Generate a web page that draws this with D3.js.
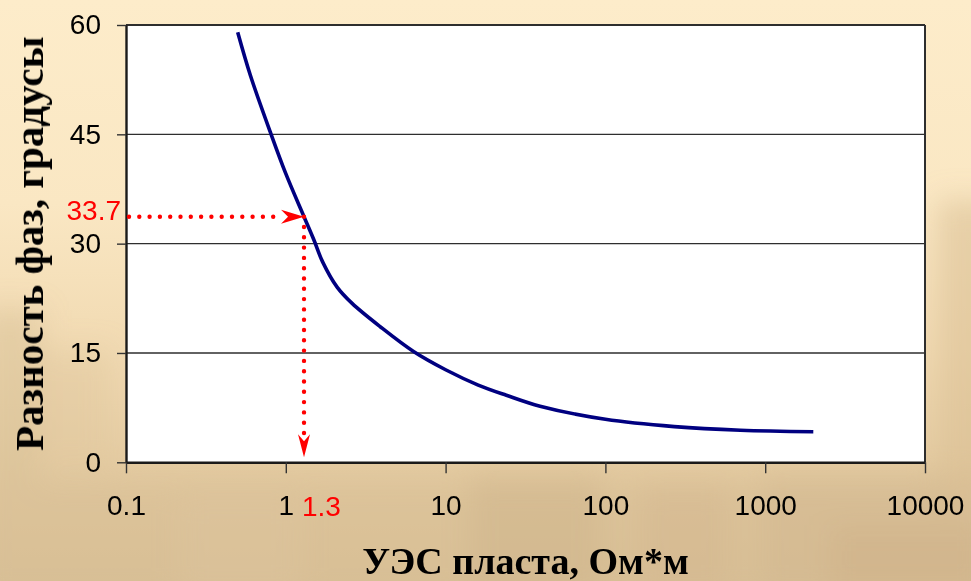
<!DOCTYPE html>
<html>
<head>
<meta charset="utf-8">
<script src="https://cdn.jsdelivr.net/npm/d3@7"></script>
<style>
  html, body { margin: 0; padding: 0; background: #f7e4bf; }
  svg { display: block; }
</style>
</head>
<body>
<svg id="chart" width="971" height="581"></svg>
<script>
// Phase difference vs. formation resistivity
const resistivity = [0.5, 0.6, 0.8, 1, 1.3, 1.5, 1.7, 2.1, 2.6, 3.9, 6.3, 10, 16, 24, 39, 100, 270, 700, 2000];
const phaseDiff   = [59, 53.1, 45.3, 39.6, 33.7, 30.5, 27.5, 24.0, 21.8, 18.6, 15.2, 12.7, 10.6, 9.2, 7.7, 5.9, 4.9, 4.4, 4.2];

const xTicks = [0.1, 1, 10, 100, 1000, 10000];
const xTickLabels = ["0.1", "1", "10", "100", "1000", "10000"];
const yTicks = [0, 15, 30, 45, 60];
const yTickLabels = ["0", "15", "30", "45", "60"];

// Worked example
const markRes = 1.3;
const markPhase = 33.7;

const xTitle = "УЭС пласта, Ом*м";
const yTitle = "Разность фаз, градусы";

const W = 971, H = 581;
const plot = { left: 126, right: 925, top: 25, bottom: 462.3 };

const svg = d3.select("#chart");
const defs = svg.append("defs");

// ---- sepia backdrop ----
const bg = defs.append("linearGradient").attr("id", "bgGrad")
  .attr("x1", 0).attr("y1", 0).attr("x2", 0).attr("y2", 1);
[[0, "#fdecca"], [0.35, "#fae7c3"], [0.6, "#f1dab2"], [0.8, "#e4cba1"], [1, "#d9c197"]]
  .forEach(([o, c]) => bg.append("stop").attr("offset", o).attr("stop-color", c));
defs.append("filter").attr("id", "haze").attr("x", "-30%").attr("y", "-30%")
  .attr("width", "160%").attr("height", "160%")
  .append("feGaussianBlur").attr("stdDeviation", 14);

svg.append("rect").attr("width", W).attr("height", H).attr("fill", "url(#bgGrad)");

// faint hazy silhouettes of the old photograph
const haze = svg.append("g").attr("filter", "url(#haze)");
const blobs = [
  [-20, 310, 60, 170, "#d8bf96", 0.5], [40, 350, 70, 120, "#e0c79f", 0.45],
  [-20, 480, 1010, 120, "#d7bd93", 0.5], [470, 475, 130, 120, "#cdb28a", 0.4],
  [640, 485, 90, 110, "#d0b58c", 0.35], [760, 475, 230, 120, "#cfb48b", 0.35],
  [938, 200, 60, 300, "#d9be94", 0.55], [180, 495, 120, 100, "#dcc59d", 0.35],
  [830, 525, 160, 70, "#c9ad84", 0.3]
];
blobs.forEach(([x, y, w, h, c, o]) =>
  haze.append("rect").attr("x", x).attr("y", y).attr("width", w).attr("height", h)
    .attr("fill", c).attr("opacity", o));

// ---- scales ----
const x = d3.scaleLog().domain([0.1, 10000]).range([plot.left, plot.right]);
const y = d3.scaleLinear().domain([0, 60]).range([plot.bottom, plot.top]);

// plot area
svg.append("rect")
  .attr("x", plot.left).attr("y", plot.top)
  .attr("width", plot.right - plot.left).attr("height", plot.bottom - plot.top)
  .attr("fill", "#ffffff");

// horizontal gridlines
svg.append("g").selectAll("line").data(yTicks.filter(v => v > 0)).join("line")
  .attr("x1", plot.left).attr("x2", plot.right)
  .attr("y1", d => y(d)).attr("y2", d => y(d))
  .attr("stroke", "#2e2e2e").attr("stroke-width", d => d === 60 ? 2 : 1.4);

// right border
svg.append("line")
  .attr("x1", plot.right).attr("x2", plot.right)
  .attr("y1", plot.top).attr("y2", plot.bottom)
  .attr("stroke", "#2e2e2e").attr("stroke-width", 2);

// ---- axes ----
const tickFont = "'Liberation Sans', Arial, sans-serif";

const xAxis = d3.axisBottom(x)
  .tickValues(xTicks)
  .tickFormat((d, i) => xTickLabels[i])
  .tickSize(11).tickSizeOuter(0).tickPadding(22);
const gx = svg.append("g").attr("transform", `translate(0,${plot.bottom})`).call(xAxis);
gx.select(".domain").attr("stroke", "#1a1a1a").attr("stroke-width", 2.4);
gx.selectAll(".tick line").attr("stroke", "#333").attr("stroke-width", 1.4);
gx.selectAll(".tick text").attr("font-family", tickFont).attr("font-size", 28).attr("fill", "#000");

const yAxis = d3.axisLeft(y)
  .tickValues(yTicks)
  .tickFormat((d, i) => yTickLabels[i])
  .tickSize(9).tickSizeOuter(0).tickPadding(16);
const gy = svg.append("g").attr("transform", `translate(${plot.left},0)`).call(yAxis);
gy.select(".domain").attr("stroke", "#1a1a1a").attr("stroke-width", 2.4);
gy.selectAll(".tick line").attr("stroke", "#333").attr("stroke-width", 1.4);
gy.selectAll(".tick text").attr("font-family", tickFont).attr("font-size", 28).attr("fill", "#000");

// ---- curve ----
const line = d3.line()
  .x((d, i) => x(resistivity[i]))
  .y(d => y(d))
  .curve(d3.curveCatmullRom.alpha(0.5));

svg.append("path")
  .datum(phaseDiff)
  .attr("d", line)
  .attr("fill", "none")
  .attr("stroke", "#000080")
  .attr("stroke-width", 3.6);

// ---- worked example: dotted guides with arrowheads ----
const red = "#ff0000";
const px = x(markRes), py = y(markPhase);
const arrowLen = 23, arrowHalf = 7, notch = 7;

// horizontal guide: from the phase axis to the curve
svg.append("line")
  .attr("x1", plot.left + 3).attr("x2", px - arrowLen + 2)
  .attr("y1", py).attr("y2", py)
  .attr("stroke", red).attr("stroke-width", 4.4)
  .attr("stroke-linecap", "round").attr("stroke-dasharray", "0 10.3");

svg.append("path")
  .attr("d", `M${px},${py} L${px - arrowLen},${py - arrowHalf} L${px - arrowLen + notch},${py} L${px - arrowLen},${py + arrowHalf} Z`)
  .attr("fill", red);

// vertical guide: from the curve down to the resistivity axis
const tipY = y(0) - 5;
svg.append("line")
  .attr("x1", px).attr("x2", px)
  .attr("y1", py).attr("y2", tipY - arrowLen + 4)
  .attr("stroke", red).attr("stroke-width", 4.4)
  .attr("stroke-linecap", "round").attr("stroke-dasharray", "0 10.3");

svg.append("path")
  .attr("d", `M${px},${tipY} L${px - arrowHalf + 1},${tipY - arrowLen} L${px},${tipY - arrowLen + notch} L${px + arrowHalf - 1},${tipY - arrowLen} Z`)
  .attr("fill", red);

// value labels
svg.append("text")
  .attr("x", plot.left - 5).attr("y", py + 3)
  .attr("text-anchor", "end")
  .attr("font-family", tickFont).attr("font-size", 28).attr("fill", red)
  .text(String(markPhase));

svg.append("text")
  .attr("x", px - 2).attr("y", plot.bottom + 53.5)
  .attr("text-anchor", "start")
  .attr("font-family", tickFont).attr("font-size", 28).attr("fill", red)
  .text(String(markRes));

// ---- axis titles ----
const titleFont = "'Liberation Serif', 'Times New Roman', serif";

svg.append("text")
  .attr("x", (plot.left + plot.right) / 2).attr("y", 574)
  .attr("text-anchor", "middle")
  .attr("font-family", titleFont).attr("font-weight", "bold")
  .attr("font-size", 38).attr("fill", "#000")
  .text(xTitle);

svg.append("text")
  .attr("transform", `translate(43,${(plot.top + plot.bottom) / 2}) rotate(-90)`)
  .attr("text-anchor", "middle")
  .attr("font-family", titleFont).attr("font-weight", "bold")
  .attr("font-size", 41).attr("fill", "#000")
  .text(yTitle);
</script>
</body>
</html>
